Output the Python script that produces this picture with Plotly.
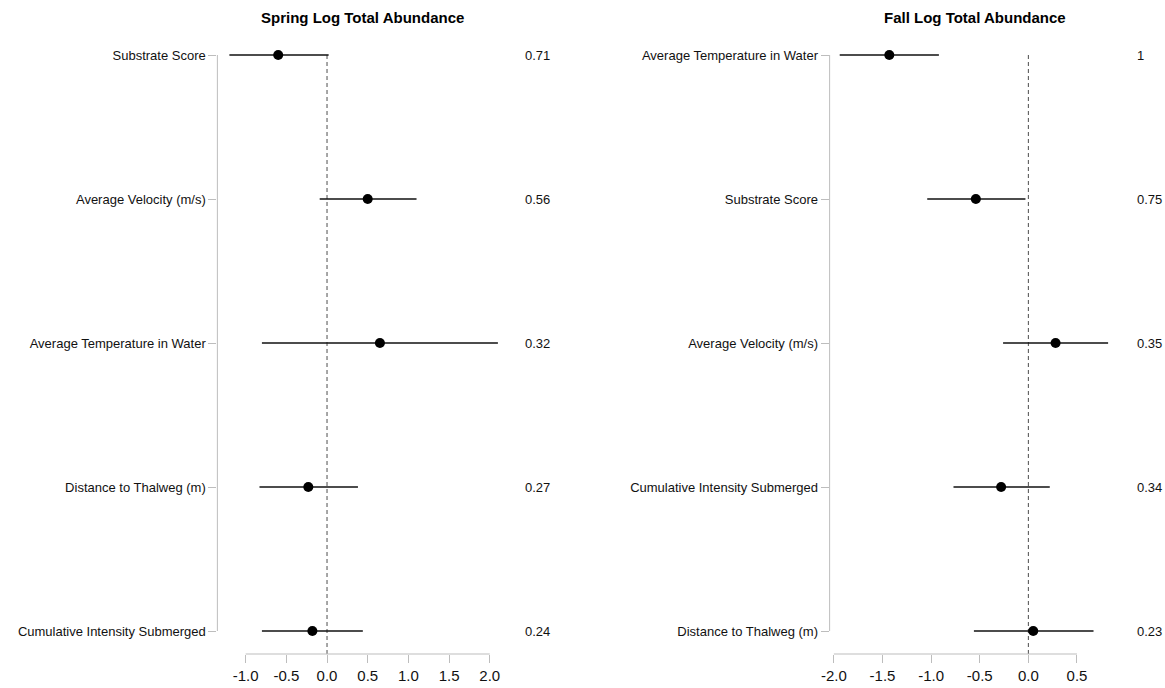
import plotly.graph_objects as go

# ---- data -------------------------------------------------------------
spring_vars = ["Substrate Score", "Average Velocity (m/s)", "Average Temperature in Water",
               "Distance to Thalweg (m)", "Cumulative Intensity Submerged"]
spring_est = [-0.60, 0.50, 0.65, -0.23, -0.18]
spring_lo = [-1.20, -0.09, -0.80, -0.83, -0.80]
spring_hi = [0.02, 1.10, 2.10, 0.38, 0.44]
spring_w = ["0.71", "0.56", "0.32", "0.27", "0.24"]

fall_vars = ["Average Temperature in Water", "Substrate Score", "Average Velocity (m/s)",
             "Cumulative Intensity Submerged", "Distance to Thalweg (m)"]
fall_est = [-1.43, -0.54, 0.28, -0.28, 0.05]
fall_lo = [-1.94, -1.04, -0.26, -0.77, -0.56]
fall_hi = [-0.92, -0.03, 0.82, 0.22, 0.67]
fall_w = ["1", "0.75", "0.35", "0.34", "0.23"]

spring_ticks = [-1.0, -0.5, 0.0, 0.5, 1.0, 1.5, 2.0]
fall_ticks = [-2.0, -1.5, -1.0, -0.5, 0.0, 0.5]

titles = ["Spring Log Total Abundance", "Fall Log Total Abundance"]

# ---- page geometry (pixels) ------------------------------------------
W, H = 1165, 688
FONT = "Liberation Sans, Arial, sans-serif"
GREY = "#bdbdbd"

row_top, row_step = 55, 144          # y pixel of first row, spacing between rows
axis_y = 654                          # pixel row of the x axis line
y_range = [(axis_y - row_top) / row_step, -row_top / row_step]
y_domain = [(H - axis_y) / H, 1.0]

# x-axis pixel layout: (domain left, domain right, pixel of zero, pixels per unit)
panels = [
    dict(px0=210, px1=560, zero=320.5, unit=82.0, label_x=518, title_x=356.5),
    dict(px0=827, px1=1165, zero=1027.3, unit=98.0, label_x=1135, title_x=973.5),
]

datasets = [
    (spring_vars, spring_est, spring_lo, spring_hi, spring_w, spring_ticks),
    (fall_vars, fall_est, fall_lo, fall_hi, fall_w, fall_ticks),
]

fig = go.Figure()
shapes, annotations = [], []
layout_axes = {}

for k, (panel, ds) in enumerate(zip(panels, datasets)):
    names, est, lo, hi, wts, ticks = ds
    sfx = "" if k == 0 else str(k + 1)
    xa, ya = "x" + sfx, "y" + sfx
    rows = list(range(len(names)))

    x_range = [(panel["px0"] - panel["zero"]) / panel["unit"],
               (panel["px1"] - panel["zero"]) / panel["unit"]]

    # dashed reference line at zero (drawn below the data)
    shapes.append(dict(type="line", xref=xa, yref=ya, layer="below",
                       x0=0, x1=0, y0=rows[0], y1=y_range[0],
                       line=dict(color="#4d4d4d", width=1, dash="4px,3px")))

    fig.add_trace(go.Scatter(
        x=est, y=rows, xaxis=xa, yaxis=ya, mode="markers",
        marker=dict(size=10, color="black"),
        error_x=dict(type="data", symmetric=False,
                     array=[h - e for h, e in zip(hi, est)],
                     arrayminus=[e - l for e, l in zip(est, lo)],
                     width=0, thickness=1.3, color="#111111"),
        showlegend=False, hoverinfo="x+y",
    ))

    layout_axes["xaxis" + sfx] = dict(
        domain=[panel["px0"] / W, panel["px1"] / W], range=x_range,
        anchor=ya, tickvals=ticks, ticktext=[f"{t:.1f}" for t in ticks],
        ticks="outside", ticklen=8, tickwidth=1, tickcolor=GREY,
        showline=False, showgrid=False, zeroline=False,
        tickfont=dict(family=FONT, size=15, color="#111"),
    )
    layout_axes["yaxis" + sfx] = dict(
        domain=y_domain, range=y_range, anchor=xa,
        tickvals=rows, ticktext=names,
        ticks="outside", ticklen=8, tickwidth=1, tickcolor=GREY,
        showline=False, showgrid=False, zeroline=False,
        tickfont=dict(family=FONT, size=13, color="#111"),
    )

    # x axis line spanning the tick range only
    shapes.append(dict(type="line", xref=xa, yref=ya + " domain",
                       x0=ticks[0], x1=ticks[-1], y0=0, y1=0,
                       line=dict(color=GREY, width=1)))
    # y axis line spanning first to last row
    shapes.append(dict(type="line", xref=xa + " domain", yref=ya,
                       x0=0, x1=0, y0=rows[0], y1=rows[-1],
                       line=dict(color=GREY, width=1)))

    # weights printed at the right of each row
    for r, w in zip(rows, wts):
        annotations.append(dict(text=w, xref="paper", yref=ya,
                                x=panel["label_x"] / W, y=r,
                                xanchor="left", yanchor="middle", showarrow=False,
                                font=dict(family=FONT, size=13, color="#111")))

    annotations.append(dict(text=f"<b>{titles[k]}</b>", xref="paper", yref="paper",
                            x=panel["title_x"] / W, y=1 - 17 / H,
                            xanchor="center", yanchor="middle", showarrow=False,
                            font=dict(family=FONT, size=15, color="#000")))

fig.update_layout(
    width=W, height=H, margin=dict(l=0, r=0, t=0, b=0),
    paper_bgcolor="white", plot_bgcolor="white",
    shapes=shapes, annotations=annotations, **layout_axes,
)

fig.write_html("out.html")
